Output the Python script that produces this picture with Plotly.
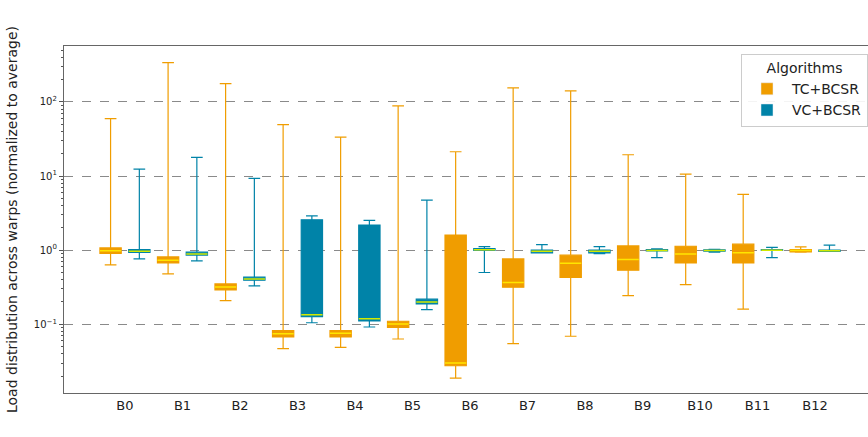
import plotly.graph_objects as go

categories = ["B0", "B1", "B2", "B3", "B4", "B5", "B6", "B7", "B8", "B9", "B10", "B11", "B12"]

tc_min = [0.633, 0.478, 0.209, 0.0469, 0.0489, 0.0633, 0.0188, 0.0548, 0.069, 0.244, 0.344, 0.16, 0.94]
tc_q1 = [0.902, 0.674, 0.291, 0.0674, 0.0674, 0.091, 0.0276, 0.316, 0.428, 0.537, 0.674, 0.674, 0.95]
tc_med = [0.98, 0.733, 0.319, 0.0747, 0.0760, 0.101, 0.030, 0.366, 0.667, 0.748, 0.89, 0.92, 0.99]
tc_q3 = [1.074, 0.812, 0.35, 0.0822, 0.0822, 0.110, 1.6, 0.763, 0.856, 1.14, 1.13, 1.205, 1.02]
tc_max = [59.4, 340, 176.7, 49.3, 33.6, 88.3, 21.3, 154.6, 140.8, 19.4, 10.6, 5.65, 1.11]

vc_min = [0.763, 0.717, 0.33, 0.105, 0.092, 0.158, 0.5, 0.92, 0.90, 0.796, 0.94, 0.796, 0.96]
vc_q1 = [0.93, 0.86, 0.393, 0.127, 0.111, 0.188, 0.99, 0.92, 0.92, 0.98, 0.97, 0.99, 0.96]
vc_med = [0.97, 0.89, 0.41, 0.135, 0.119, 0.20, 1.01, 0.97, 0.97, 0.99, 0.99, 1.0, 0.98]
vc_q3 = [1.02, 0.94, 0.432, 2.57, 2.18, 0.218, 1.05, 1.0, 1.0, 1.02, 1.01, 1.02, 1.0]
vc_max = [12.4, 17.9, 9.3, 2.91, 2.52, 4.74, 1.12, 1.19, 1.12, 1.04, 1.03, 1.09, 1.17]

series_names = ["TC+BCSR", "VC+BCSR"]
ORANGE = "#f09d00"
TEAL = "#0083a8"
MED_TC = "#ffe600"
MED_VC = "#d2ea00"

y_major = [0.1, 1, 10, 100]
y_major_text = ["10<sup>−1</sup>", "10<sup>0</sup>", "10<sup>1</sup>", "10<sup>2</sup>"]
y_minor = [m * d for d in [0.01, 0.1, 1, 10, 100] for m in range(2, 10)]

fig = go.Figure()

def add_series(name, lo, q1, med, q3, hi, color, medcolor, group):
    fig.add_trace(go.Box(
        x=categories, lowerfence=lo, q1=q1, median=med, q3=q3, upperfence=hi,
        name=name, offsetgroup=group, line=dict(color=color, width=1.2),
        fillcolor=color, whiskerwidth=0.55, showlegend=False, hoverinfo="skip",
    ))
    fig.add_trace(go.Box(
        x=categories, lowerfence=med, q1=med, median=med, q3=med, upperfence=med,
        name=name + " median", offsetgroup=group, line=dict(color=medcolor, width=1.5),
        fillcolor="rgba(0,0,0,0)", whiskerwidth=0, showlegend=False, hoverinfo="skip",
    ))
    fig.add_trace(go.Bar(
        x=[None], y=[None], name=name, marker=dict(color=color), showlegend=True,
    ))

add_series(series_names[0], tc_min, tc_q1, tc_med, tc_q3, tc_max, ORANGE, MED_TC, "tc")
add_series(series_names[1], vc_min, vc_q1, vc_med, vc_q3, vc_max, TEAL, MED_VC, "vc")

fig.update_layout(
    width=868, height=437,
    margin=dict(l=64, r=0, t=46, b=44),
    paper_bgcolor="white", plot_bgcolor="white",
    font=dict(family="DejaVu Sans", color="#222"),
    boxmode="group", boxgap=0.0, boxgroupgap=0.26,
    legend=dict(
        x=1.0, y=0.977, xanchor="right", yanchor="top",
        title=dict(text="Algorithms", side="top center", font=dict(size=14)),
        font=dict(size=14), bordercolor="#cccccc", borderwidth=1,
        bgcolor="rgba(255,255,255,0.9)", tracegroupgap=2, itemwidth=40,
    ),
)

fig.update_xaxes(
    type="category", range=[-1.06, 12.92],
    showline=True, linecolor="#666", linewidth=1.3, mirror=True,
    ticks="", tickfont=dict(size=13), showgrid=False, zeroline=False,
)

fig.update_yaxes(
    type="log", range=[-1.927, 2.755],
    showline=True, linecolor="#666", linewidth=1.3, mirror=False,
    tickmode="array", tickvals=y_major, ticktext=y_major_text,
    ticks="outside", ticklen=4, tickcolor="#555", tickfont=dict(size=10),
    showgrid=True, gridcolor="#8a8a8a", griddash="dash", gridwidth=0.8,
    minor=dict(tickmode="array", tickvals=y_minor, ticks="outside", ticklen=2,
               tickcolor="#555", showgrid=False),
    zeroline=False,
    title=dict(text="Load distribution across warps (normalized to average)",
               font=dict(size=14), standoff=12),
)

fig.write_html(
    "out.html",
    config={"displayModeBar": False},
    post_script="document.body.style.margin='0';document.body.style.overflow='hidden';",
)
